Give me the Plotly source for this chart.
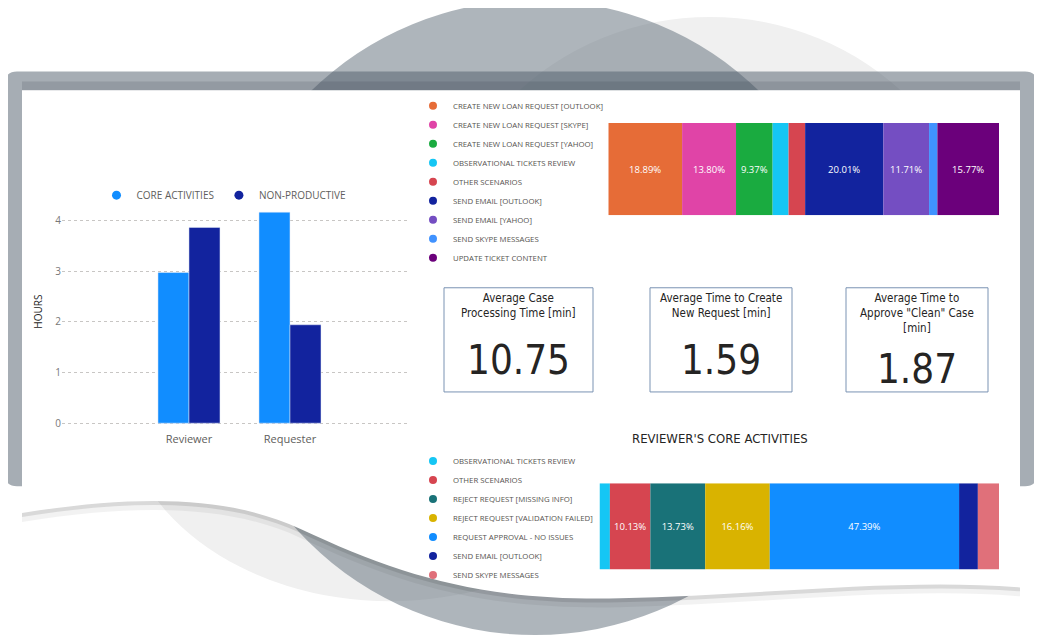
import plotly.graph_objects as go

# ---------------- data ----------------
bar_categories = ["Reviewer", "Requester"]
series_names = ["CORE ACTIVITIES", "NON-PRODUCTIVE"]
core_hours = [2.97, 4.16]
nonprod_hours = [3.86, 1.94]
series_colors = ["#118DFF", "#12239E"]

top_activities = [
    "CREATE NEW LOAN REQUEST [OUTLOOK]",
    "CREATE NEW LOAN REQUEST [SKYPE]",
    "CREATE NEW LOAN REQUEST [YAHOO]",
    "OBSERVATIONAL TICKETS REVIEW",
    "OTHER SCENARIOS",
    "SEND EMAIL [OUTLOOK]",
    "SEND EMAIL [YAHOO]",
    "SEND SKYPE MESSAGES",
    "UPDATE TICKET CONTENT",
]
top_shares = [18.89, 13.80, 9.37, 4.08, 4.24, 20.01, 11.71, 2.13, 15.77]
top_colors = ["#E66C37", "#E044A7", "#1AAB40", "#15C6F4", "#D64550",
              "#12239E", "#744EC2", "#4092FF", "#6B007B"]

reviewer_activities = [
    "OBSERVATIONAL TICKETS REVIEW",
    "OTHER SCENARIOS",
    "REJECT REQUEST [MISSING INFO]",
    "REJECT REQUEST [VALIDATION FAILED]",
    "REQUEST APPROVAL - NO ISSUES",
    "SEND EMAIL [OUTLOOK]",
    "SEND SKYPE MESSAGES",
]
reviewer_shares = [2.60, 10.13, 13.73, 16.16, 47.39, 4.70, 5.29]
reviewer_colors = ["#15C6F4", "#D64550", "#197278", "#D9B300", "#118DFF",
                   "#12239E", "#E0707A"]

kpi_titles = ["Average Case<br>Processing Time [min]",
              "Average Time to Create<br>New Request [min]",
              "Average Time to<br>Approve \"Clean\" Case<br>[min]"]
kpi_values = [10.75, 1.59, 1.87]

# ---------------- helpers ----------------
# the page body has an 8px margin, so the figure occupies 8..1042 x 8..642
OFF = 8
W, H = 1042 - OFF, 642 - OFF
def px(x): return (x - OFF) / W
def py(y): return 1 - (y - OFF) / H

def path(cmds):
    out = []
    for c in cmds:
        out.append(c if isinstance(c, str) else f"{px(c[0]):.5f},{py(c[1]):.5f}")
    return " ".join(out)

NARROW = "DejaVu Sans Condensed, Liberation Sans Narrow, sans-serif"
UI = "Open Sans, Noto Sans, sans-serif"

fig = go.Figure()

# ---------------- grouped bar chart ----------------
for name, vals, col in zip(series_names, [core_hours, nonprod_hours], series_colors):
    fig.add_trace(go.Bar(x=bar_categories, y=vals, name=name, marker_color=col,
                         showlegend=False, hoverinfo="skip", xaxis="x", yaxis="y"))
    fig.add_trace(go.Scatter(x=[None], y=[None], mode="markers", name=name,
                             marker=dict(color=col, size=9, symbol="circle"),
                             legend="legend", xaxis="x", yaxis="y"))

# ---------------- stacked 100% bars ----------------
def stacked(names, shares, colors, xa, ya, leg, group):
    cum = 0
    for n, s, c in zip(names, shares, colors):
        label = f"{s:.2f}%" if s >= 8 else ""
        fig.add_trace(go.Bar(y=["all"], x=[s], base=[cum], orientation="h", width=1,
                             offsetgroup=group, marker=dict(color=c, line=dict(width=0)),
                             text=[label], textposition="inside", insidetextanchor="middle",
                             textangle=0, textfont=dict(color="white", size=9.5, family=UI),
                             showlegend=False, hoverinfo="skip", xaxis=xa, yaxis=ya))
        cum += s
    for n, c in zip(names, colors):
        fig.add_trace(go.Scatter(x=[None], y=[None], mode="markers", name=n,
                                 marker=dict(color=c, size=8, symbol="circle"),
                                 legend=leg, xaxis=xa, yaxis=ya))

stacked(top_activities, top_shares, top_colors, "x2", "y2", "legend2", "top")
stacked(reviewer_activities, reviewer_shares, reviewer_colors, "x3", "y3", "legend3", "rev")

# ---------------- decorative background ----------------
shapes = []
annotations = []
shapes.append(dict(type="circle", xref="paper", yref="paper", layer="below",
                   x0=px(427), x1=px(993), y0=py(583), y1=py(17),
                   fillcolor="#F0F0F0", line=dict(width=0)))
shapes.append(dict(type="circle", xref="paper", yref="paper", layer="below",
                   x0=px(120), x1=px(660), y0=py(606), y1=py(194),
                   fillcolor="#F0F0F0", line=dict(width=0)))
shapes.append(dict(type="circle", xref="paper", yref="paper", layer="below",
                   x0=px(215), x1=px(855), y0=py(640), y1=py(0),
                   fillcolor="rgba(108,120,132,0.55)", line=dict(width=0)))
r = 12
frame = [
    "M", (5 + r, 72), "L", (1037 - r, 72), "Q", (1037, 72), (1037, 72 + r),
    "L", (1037, 490 - r), "Q", (1037, 490), (1037 - r, 490),
    "L", (5 + r, 490), "Q", (5, 490), (5, 490 - r),
    "L", (5, 72 + r), "Q", (5, 72), (5 + r, 72), "Z"]
shapes.append(dict(type="path", xref="paper", yref="paper", layer="below",
                   path=path(frame), fillcolor="rgba(78,92,106,0.5)", line=dict(width=0)))
shapes.append(dict(type="rect", xref="paper", yref="paper", layer="below",
                   x0=px(22), x1=px(1020), y0=py(91), y1=py(82),
                   fillcolor="rgba(40,50,60,0.15)", line=dict(width=0)))

def card(dy):
    return [
        "M", (22, 91 + dy), "L", (1020, 91 + dy), "L", (1020, 592 + dy),
        "C", (900, 582 + dy), (760, 600 + dy), (620, 603 + dy),
        "C", (480, 606 + dy), (400, 580 + dy), (300, 533 + dy),
        "C", (230, 500 + dy), (140, 498 + dy), (22, 517 + dy), "Z"]

shapes.append(dict(type="path", xref="paper", yref="paper", layer="below",
                   path=path(card(9)), fillcolor="rgba(0,0,0,0.05)", line=dict(width=0)))
shapes.append(dict(type="path", xref="paper", yref="paper", layer="below",
                   path=path(card(4)), fillcolor="rgba(0,0,0,0.10)", line=dict(width=0)))
shapes.append(dict(type="path", xref="paper", yref="paper", layer="below",
                   path=path(card(0)), fillcolor="#FFFFFF", line=dict(width=0)))

# ---------------- KPI cards ----------------
kpi_boxes = [(444, 593), (650, 792), (846, 988)]
kpi_num_y = [363, 363, 372]
for (x0, x1), title, val, ny in zip(kpi_boxes, kpi_titles, kpi_values, kpi_num_y):
    shapes.append(dict(type="rect", xref="paper", yref="paper", layer="below",
                       x0=px(x0), x1=px(x1), y0=py(395), y1=py(290),
                       fillcolor="white", line=dict(color="#7A93B3", width=1)))
    annotations.append(dict(xref="paper", yref="paper", x=px((x0 + x1) / 2), y=py(291),
                            xanchor="center", yanchor="top", showarrow=False,
                            text=title, align="center",
                            font=dict(family=NARROW, size=11.5, color="#252423")))
    fig.add_trace(go.Indicator(mode="number", value=val,
                               number=dict(valueformat=".2f",
                                           font=dict(family=NARROW, size=40, color="#252423")),
                               domain=dict(x=[px(x0 + 2), px(x1 - 2)],
                                           y=[py(ny + 22), py(ny - 22)])))

annotations.append(dict(xref="paper", yref="paper", x=px(720), y=py(442),
                        xanchor="center", yanchor="middle", showarrow=False,
                        text="REVIEWER'S CORE ACTIVITIES",
                        font=dict(family=NARROW, size=13, color="#252423")))

hidden = dict(showticklabels=False, showgrid=False, zeroline=False, showline=False,
              ticks="", fixedrange=True)
legfont = dict(family=UI, size=7.8, color="#55534F")

fig.update_layout(
    width=W, height=H,
    margin=dict(l=0, r=0, t=0, b=0),
    paper_bgcolor="white", plot_bgcolor="rgba(0,0,0,0)",
    barmode="group", bargap=0.386, bargroupgap=0,
    font=dict(family=UI, color="#605E5C"),
    shapes=shapes, annotations=annotations,
    xaxis=dict(domain=[px(62), px(410)], type="category", range=[-1.257, 2.188],
               showgrid=False, zeroline=False, showline=False, ticks="",
               ticklabelstandoff=6,
               tickfont=dict(size=11, color="#605E5C"), fixedrange=True),
    yaxis=dict(domain=[py(428), py(200)], range=[-0.03, 4.43], dtick=1,
               showgrid=True, gridcolor="#C8C6C4", griddash="dot", gridwidth=1,
               zeroline=False, showline=False, ticks="",
               tickfont=dict(size=10, color="#777777"),
               title=dict(text="HOURS", font=dict(size=10, color="#252423"), standoff=10),
               fixedrange=True),
    xaxis2=dict(domain=[px(608.3), px(999)], range=[0, 100], **hidden),
    yaxis2=dict(domain=[py(217), py(124)], range=[-0.5, 0.5], type="category", **hidden),
    xaxis3=dict(domain=[px(599.5), px(999)], range=[0, 100], **hidden),
    yaxis3=dict(domain=[py(574), py(487)], range=[-0.5, 0.5], type="category", **hidden),
    legend=dict(orientation="h", x=px(224), xanchor="center", y=py(182), yanchor="top",
                font=dict(size=10, color="#605E5C"), bgcolor="rgba(0,0,0,0)",
                itemclick=False, itemdoubleclick=False),
    legend2=dict(orientation="v", x=px(413), xanchor="left", y=py(92), yanchor="top",
                 font=legfont, bgcolor="rgba(0,0,0,0)",
                 tracegroupgap=0, itemclick=False, itemdoubleclick=False),
    legend3=dict(orientation="v", x=px(413), xanchor="left", y=py(450), yanchor="top",
                 font=legfont, bgcolor="rgba(0,0,0,0)",
                 tracegroupgap=0, itemclick=False, itemdoubleclick=False),
)

fig.write_html("out.html")
